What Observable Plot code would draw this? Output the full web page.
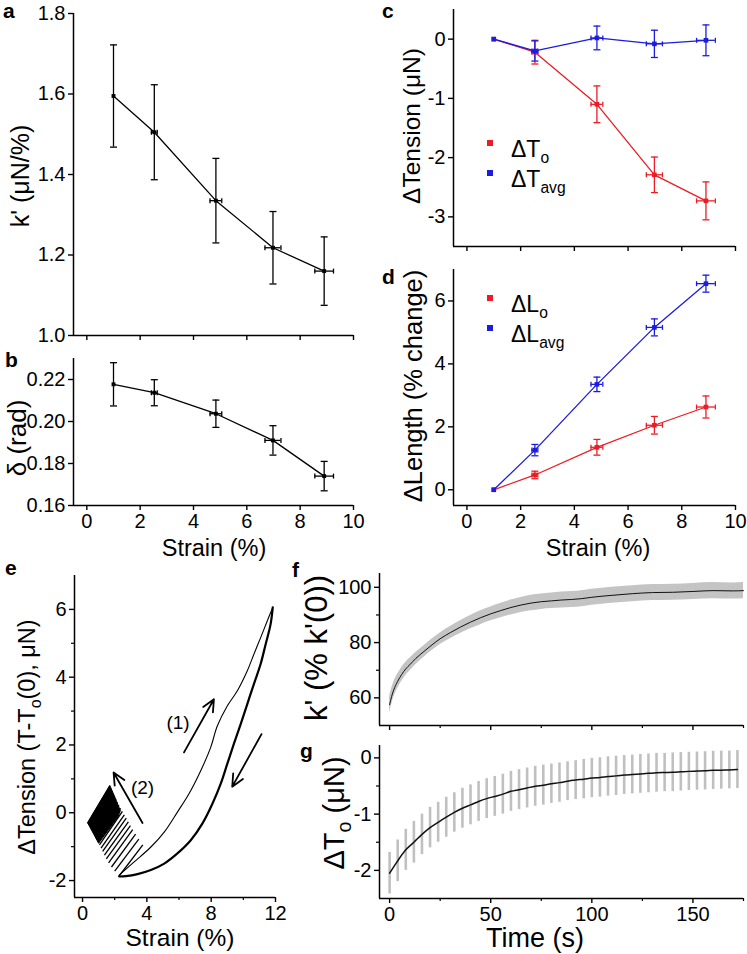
<!DOCTYPE html>
<html><head><meta charset="utf-8">
<script src="https://cdn.jsdelivr.net/npm/d3@7"></script>
<script src="https://cdn.jsdelivr.net/npm/@observablehq/plot@0.6"></script>
<style>
body{margin:0;background:#fff;}
#wrap{position:relative;width:747px;height:954px;background:#fff;overflow:hidden;}
#wrap svg{position:absolute;}
</style></head><body><div id="wrap"></div>
<script>
// ---------- data ----------
const strain = [1.0, 2.53, 4.84, 6.98, 8.9];
const strainErr = [0, 0.11, 0.22, 0.3, 0.35];
const kPrime = [1.595, 1.505, 1.335, 1.218, 1.16];
const kPrimeErr = [0.127, 0.118, 0.105, 0.09, 0.085];
const phase = [0.2177, 0.2137, 0.2037, 0.191, 0.174];
const phaseErr = [0.0103, 0.0062, 0.0065, 0.007, 0.007];
const dTo = [0, -0.22, -1.1, -2.29, -2.73];
const dToErr = [0, 0.2, 0.31, 0.3, 0.32];
const dTavg = [0, -0.2, 0.02, -0.08, -0.02];
const dTavgErr = [0, 0.17, 0.2, 0.23, 0.26];
const dLo = [0, 0.47, 1.35, 2.05, 2.63];
const dLoErr = [0, 0.12, 0.25, 0.28, 0.35];
const dLavg = [0, 1.26, 3.35, 5.16, 6.55];
const dLavgErr = [0, 0.18, 0.23, 0.27, 0.27];

// panel e: hysteresis loop (1) and relaxation cycles (2)
const eLoadX = [2.28, 3.21, 4.25, 5.08, 5.9, 6.62, 7.35, 7.97, 8.38, 9.0, 9.62, 10.24, 10.65, 11.07, 11.48, 11.83];
const eLoadY = [-1.84, -1.45, -1.01, -0.57, 0.02, 0.56, 1.24, 1.93, 2.56, 3.15, 3.59, 4.18, 4.67, 5.16, 5.65, 6.06];
const eUnX = [11.83, 11.69, 11.38, 11.07, 10.65, 10.24, 9.83, 9.41, 9.0, 8.59, 8.07, 7.45, 6.73, 5.9, 5.08, 4.25, 3.42, 2.7, 2.28];
const eUnY = [6.06, 5.55, 4.96, 4.38, 3.79, 3.2, 2.61, 2.03, 1.44, 0.85, 0.26, -0.32, -0.81, -1.2, -1.5, -1.69, -1.81, -1.87, -1.88];
const eCycLoX = [2.25, 2.0, 1.8, 1.62, 1.48, 1.36, 1.25, 1.15, 1.05, 0.95, 0.85, 0.75, 0.66, 0.58, 0.5, 0.44, 0.38, 0.32];
const eCycLoY = [-1.88, -1.72, -1.6, -1.48, -1.36, -1.25, -1.14, -1.04, -0.95, -0.86, -0.77, -0.68, -0.6, -0.52, -0.45, -0.39, -0.34, -0.3];
const eCycHiX = [3.75, 3.5, 3.3, 3.12, 2.98, 2.85, 2.72, 2.6, 2.48, 2.37, 2.27, 2.17, 2.08, 2.0, 1.92, 1.84, 1.77, 1.7];
const eCycHiY = [-0.95, -0.78, -0.63, -0.5, -0.38, -0.27, -0.16, -0.06, 0.04, 0.13, 0.22, 0.31, 0.4, 0.48, 0.56, 0.64, 0.72, 0.8];
const eDenseX = [0.32, 1.7, 2.02, 2.35, 2.2, 1.0, 0.32];
const eDenseY = [-0.3, 0.8, 0.45, 0.06, -0.12, -0.9, -0.3];
const eArrowX1 = [6.31, 11.13, 3.73], eArrowY1 = [1.78, 2.32, -0.3];
const eArrowX2 = [8.17, 9.31, 1.93], eArrowY2 = [3.35, 0.77, 1.19];
const eNoteX = [5.94, 3.73], eNoteY = [2.66, 0.73], eNoteText = ["(1)", "(2)"];

// panel f
const fT = [0, 1, 2, 4, 6, 8, 10, 13, 17, 21, 25, 30, 35, 40, 45, 50, 55, 60, 65, 70, 75, 80, 85, 90, 95, 100, 110, 120, 130, 140, 150, 160, 170, 175];
const fK = [57.5, 60.5, 62.8, 66, 68.5, 70.5, 72, 74.3, 76.8, 79.2, 81.4, 83.6, 85.6, 87.4, 89, 90.4, 91.6, 92.7, 93.6, 94.3, 94.8, 95.1, 95.4, 95.6, 95.9, 96.4, 97.1, 97.7, 98.1, 98.2, 98.5, 98.8, 98.7, 98.8];
const fErr = [3.0, 2.9, 2.8, 2.6, 2.5, 2.4, 2.3, 2.2, 2.1, 2.1, 2.1, 2.2, 2.3, 2.4, 2.5, 2.5, 2.6, 2.7, 2.7, 2.8, 2.8, 2.8, 2.9, 2.9, 2.9, 2.9, 2.9, 2.9, 2.9, 2.9, 2.9, 2.9, 2.9, 2.9];

// panel g
const gT = [0,4,8,12,16,20,24,28,32,36,40,44,48,52,56,60,64,68,72,76,80,84,88,92,96,100,104,108,112,116,120,124,128,132,136,140,144,148,152,156,160,164,168,172];
const gMean = [-2.05,-1.83,-1.635,-1.5,-1.36,-1.24,-1.145,-1.055,-0.97,-0.895,-0.835,-0.775,-0.725,-0.685,-0.645,-0.595,-0.565,-0.535,-0.505,-0.485,-0.46,-0.44,-0.415,-0.395,-0.378,-0.358,-0.348,-0.33,-0.32,-0.305,-0.295,-0.285,-0.275,-0.265,-0.26,-0.256,-0.248,-0.24,-0.235,-0.23,-0.222,-0.218,-0.215,-0.208];
const gErr = [0.37,0.37,0.365,0.37,0.36,0.36,0.355,0.355,0.35,0.355,0.355,0.355,0.355,0.355,0.355,0.355,0.355,0.355,0.355,0.355,0.35,0.35,0.345,0.345,0.35,0.35,0.35,0.35,0.35,0.345,0.345,0.345,0.345,0.345,0.34,0.344,0.342,0.34,0.34,0.34,0.34,0.338,0.335,0.338];

// ---------- helpers ----------
const FONT = '"Liberation Sans", Arial, Helvetica, sans-serif';
const RED = "#ec1c24", BLUE = "#1c1ce0";
const FS = 20;
const wrap = document.getElementById("wrap");
const str = d => String(d);
const blank = () => "";
const hCap = {draw(c, s){ const r = Math.sqrt(s/Math.PI); c.moveTo(-r,0); c.lineTo(r,0); }};
const vCap = {draw(c, s){ const r = Math.sqrt(s/Math.PI); c.moveTo(0,-r); c.lineTo(0,r); }};

function series(x, y, ex, ey, color, dotR) {
  const d = x.map((xi,i) => ({x: xi, y: y[i], ex: ex[i], ey: ey[i]}));
  const dv = d.filter(p => p.ey > 0), dh = d.filter(p => p.ex > 0);
  const st = {stroke: color, strokeWidth: 1.3};
  return [
    Plot.line(d, {x: "x", y: "y", stroke: color, strokeWidth: 1.3}),
    Plot.ruleX(dv, {x: "x", y1: p => p.y - p.ey, y2: p => p.y + p.ey, ...st}),
    Plot.dot(dv, {x: "x", y: p => p.y - p.ey, symbol: hCap, r: 3.5, fill: "none", ...st}),
    Plot.dot(dv, {x: "x", y: p => p.y + p.ey, symbol: hCap, r: 3.5, fill: "none", ...st}),
    Plot.ruleY(dh, {y: "y", x1: p => p.x - p.ex, x2: p => p.x + p.ex, ...st}),
    Plot.dot(dh, {x: p => p.x - p.ex, y: "y", symbol: vCap, r: 2.5, fill: "none", ...st}),
    Plot.dot(dh, {x: p => p.x + p.ex, y: "y", symbol: vCap, r: 2.5, fill: "none", ...st}),
    Plot.dot(d, {x: "x", y: "y", symbol: "square", r: dotR, fill: color, stroke: "none"})
  ];
}

function panel(o) {
  const marks = [
    ...o.marks,
    Plot.ruleX([o.xDom[0]], {stroke: "black", strokeWidth: 1.5}),
    Plot.ruleY([o.yDom[0]], {stroke: "black", strokeWidth: 1.5}),
    Plot.axisX({ticks: o.xTicks, tickSize: 5, tickPadding: 3, fontSize: FS, tickFormat: o.xFmt || blank, label: null, strokeWidth: 1.4}),
    Plot.axisY({ticks: o.yTicks, tickSize: 5, tickPadding: 3, fontSize: FS, tickFormat: o.yFmt || str, label: null, strokeWidth: 1.4})
  ];
  if (o.xMinor) marks.push(Plot.axisX({ticks: o.xMinor, tickSize: 3, tickFormat: blank, label: null, strokeWidth: 1.2}));
  if (o.yMinor) marks.push(Plot.axisY({ticks: o.yMinor, tickSize: 3, tickFormat: blank, label: null, strokeWidth: 1.2}));
  const svg = Plot.plot({
    width: o.width, height: o.height,
    marginTop: o.mt, marginRight: o.mr, marginBottom: o.mb, marginLeft: o.ml,
    x: {domain: o.xDom}, y: {domain: o.yDom},
    style: {fontFamily: FONT, background: "transparent", color: "black", overflow: "visible"},
    marks
  });
  svg.style.left = o.left + "px";
  svg.style.top = o.top + "px";
  wrap.appendChild(svg);
}

const strainTicks = [0, 2, 4, 6, 8, 10];

// a
panel({left: 0, top: 0, width: 360, height: 345, mt: 13, mr: 7, mb: 10, ml: 73,
  xDom: [-0.5, 10], yDom: [1.0, 1.8], xTicks: strainTicks, yTicks: [1.0, 1.2, 1.4, 1.6, 1.8], yFmt: d => d.toFixed(1),
  marks: series(strain, kPrime, strainErr, kPrimeErr, "black", 2.2)});
// b
panel({left: 0, top: 345, width: 360, height: 185, mt: 13, mr: 7, mb: 25, ml: 73,
  xDom: [-0.5, 10], yDom: [0.16, 0.23], xTicks: strainTicks, xFmt: str, yTicks: [0.16, 0.18, 0.20, 0.22], yFmt: d => d.toFixed(2),
  marks: series(strain, phase, strainErr, phaseErr, "black", 2.2)});
// c
panel({left: 360, top: 0, width: 387, height: 256, mt: 9, mr: 12, mb: 10, ml: 93,
  xDom: [-0.5, 10], yDom: [-3.5, 0.5], xTicks: strainTicks, yTicks: [-3, -2, -1, 0],
  marks: [...series(strain, dTo, strainErr, dToErr, RED, 2.6), ...series(strain, dTavg, strainErr, dTavgErr, BLUE, 2.6)]});
// d
panel({left: 360, top: 256, width: 387, height: 274, mt: 13, mr: 12, mb: 25, ml: 93,
  xDom: [-0.5, 10], yDom: [-0.5, 7], xTicks: strainTicks, xFmt: str, yTicks: [0, 2, 4, 6],
  marks: [...series(strain, dLo, strainErr, dLoErr, RED, 2.6), ...series(strain, dLavg, strainErr, dLavgErr, BLUE, 2.6)]});

// e
const eLoad = eLoadX.map((x,i) => ({x, y: eLoadY[i]}));
const eUn = eUnX.map((x,i) => ({x, y: eUnY[i]}));
const eCyc = eCycLoX.map((x,i) => ({x1: x, y1: eCycLoY[i], x2: eCycHiX[i], y2: eCycHiY[i]}));
const eDense = eDenseX.map((x,i) => ({x, y: eDenseY[i]}));
const eArrows = eArrowX1.map((x,i) => ({x1: x, y1: eArrowY1[i], x2: eArrowX2[i], y2: eArrowY2[i]}));
const eNotes = eNoteX.map((x,i) => ({x, y: eNoteY[i], text: eNoteText[i]}));
panel({left: 0, top: 565, width: 300, height: 360, mt: 10, mr: 25, mb: 28, ml: 74,
  xDom: [-0.5, 12], yDom: [-2.5, 7], xTicks: [0, 4, 8, 12], xMinor: [2, 6, 10], xFmt: str,
  yTicks: [-2, 0, 2, 4, 6], yMinor: [-1, 1, 3, 5],
  marks: [
    Plot.line(eDense, {x: "x", y: "y", fill: "black", stroke: "black", strokeWidth: 1}),
    Plot.link(eCyc, {x1: "x1", y1: "y1", x2: "x2", y2: "y2", stroke: "black", strokeWidth: 1.3}),
    Plot.line(eLoad, {x: "x", y: "y", stroke: "black", strokeWidth: 1.1, curve: "catmull-rom"}),
    Plot.line(eUn, {x: "x", y: "y", stroke: "black", strokeWidth: 2.2, curve: "catmull-rom"}),
    Plot.arrow(eArrows, {x1: "x1", y1: "y1", x2: "x2", y2: "y2", stroke: "black", strokeWidth: 1.8, headLength: 11, headAngle: 50}),
    Plot.text(eNotes, {x: "x", y: "y", text: "text", fontSize: 19, fill: "black"})
  ]});

// f
const fData = fT.map((t,i) => ({t, k: fK[i], e: fErr[i]}));
const timeTicks = [0, 50, 100, 150], timeMinor = [25, 75, 125, 175];
panel({left: 300, top: 563, width: 447, height: 172, mt: 10, mr: 4, mb: 10, ml: 79,
  xDom: [-5, 175], yDom: [50, 105], xTicks: timeTicks, xMinor: timeMinor, yTicks: [60, 80, 100], yMinor: [70, 90],
  marks: [
    Plot.areaY(fData, {x: "t", y1: d => d.k - d.e, y2: d => d.k + d.e, fill: "#c4c4c4", curve: "monotone-x"}),
    Plot.line(fData, {x: "t", y: "k", stroke: "#111", strokeWidth: 1, curve: "monotone-x"})
  ]});

// g
const gData = gT.map((t,i) => ({t, m: gMean[i], e: gErr[i]}));
panel({left: 300, top: 735, width: 447, height: 190, mt: 10, mr: 4, mb: 27, ml: 79,
  xDom: [-5, 175], yDom: [-2.5, 0.22], xTicks: timeTicks, xMinor: timeMinor, xFmt: str, yTicks: [-2, -1, 0], yMinor: [-1.5, -0.5],
  marks: [
    Plot.ruleX(gData, {x: "t", y1: d => d.m - d.e, y2: d => d.m + d.e, stroke: "#c0c0c0", strokeWidth: 2.6}),
    Plot.line(gData, {x: "t", y: "m", stroke: "#111", strokeWidth: 1.5, curve: "monotone-x"})
  ]});

// ---------- text overlay (titles, panel letters, legends) ----------
const ov = d3.create("svg").attr("width", 747).attr("height", 954)
  .style("left", "0px").style("top", "0px").style("font-family", FONT);
function txt(parts, {x, y, size, rotate = false, anchor = "middle", weight = "normal", fill = "black"}) {
  const t = ov.append("text").attr("font-size", size).attr("font-weight", weight)
    .attr("text-anchor", anchor).attr("fill", fill);
  if (rotate) t.attr("transform", `translate(${x + 0.35 * size},${y}) rotate(-90)`);
  else t.attr("x", x).attr("y", y);
  let shifted = false;
  for (const p of parts) {
    if (typeof p === "string") {
      const s = t.append("tspan").attr("font-size", size).text(p);
      if (shifted) { s.attr("dy", -size * 0.24); shifted = false; }
    } else {
      t.append("tspan").attr("font-size", size * 0.68).attr("dy", size * 0.24).text(p.sub);
      shifted = true;
    }
  }
}
// panel letters
[["a", 3, 18], ["b", 5, 367], ["c", 382, 18], ["d", 382, 284], ["e", 5, 575], ["f", 292, 577], ["g", 300, 758]]
  .forEach(([s, x, y]) => txt([s], {x, y, size: 21, anchor: "start", weight: "bold"}));
// axis titles
txt(["k' (\u03bcN/%)"], {x: 20, y: 176, size: 25, rotate: true});
txt(["\u03b4 (rad)"], {x: 17, y: 438, size: 26, rotate: true});
txt(["\u0394Tension (\u03bcN)"], {x: 411, y: 126, size: 24.5, rotate: true});
txt(["\u0394Length (% change)"], {x: 413, y: 386, size: 25.5, rotate: true});
txt(["\u0394Tension (T-T", {sub: "o"}, "(0), \u03bcN)"], {x: 27, y: 737, size: 23.5, rotate: true});
txt(["k' (% k'(0))"], {x: 316, y: 648, size: 31, rotate: true});
txt(["\u0394T", {sub: "o"}, " (\u03bcN)"], {x: 334, y: 813, size: 29, rotate: true});
txt(["Strain (%)"], {x: 214, y: 556, size: 23.5});
txt(["Strain (%)"], {x: 598, y: 556, size: 23.5});
txt(["Strain (%)"], {x: 180, y: 946, size: 24.5});
txt(["Time (s)"], {x: 535, y: 947, size: 27});
// legends
const legend = [
  [RED, 143, ["\u0394T", {sub: "o"}], 157], [BLUE, 173, ["\u0394T", {sub: "avg"}], 187],
  [RED, 298, ["\u0394L", {sub: "o"}], 312], [BLUE, 328, ["\u0394L", {sub: "avg"}], 342]
];
for (const [c, cy, parts, by] of legend) {
  ov.append("rect").attr("x", 487).attr("y", cy - 3).attr("width", 6).attr("height", 6).attr("fill", c);
  txt(parts, {x: 511, y: by, size: 23, anchor: "start"});
}
wrap.appendChild(ov.node());
</script></body></html>
